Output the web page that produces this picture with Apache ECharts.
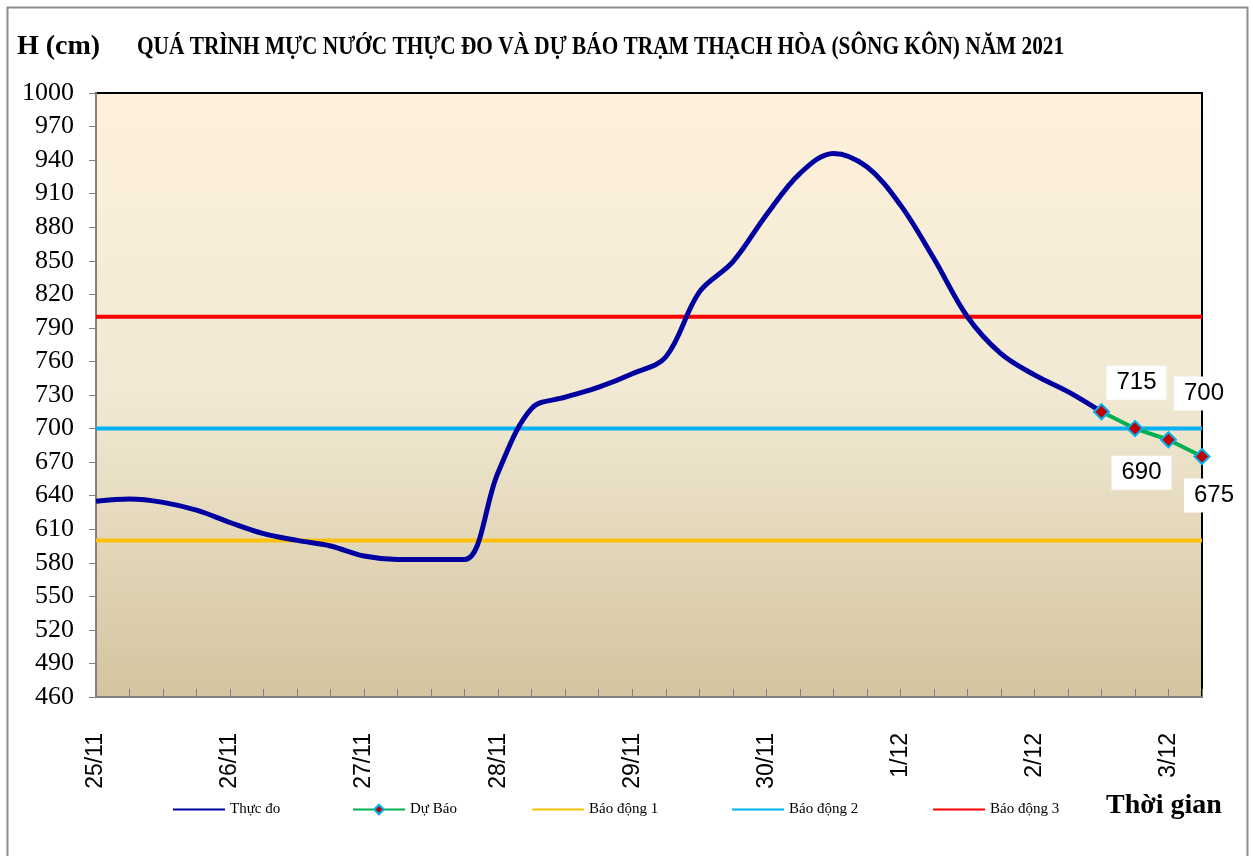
<!DOCTYPE html>
<html>
<head>
<meta charset="utf-8">
<script src="https://cdn.jsdelivr.net/npm/echarts@6/dist/echarts.min.js"></script>
<style>
    html, body { margin: 0; padding: 0; background: #fff; }
    #chart { width: 1253px; height: 856px; }
</style>
</head>
<body>
<div id="chart"></div>
<script>
    // Mốc thời gian 6 giờ một lần, từ 25/11 đến 3/12 06h
    var days = ['25/11', '26/11', '27/11', '28/11', '29/11', '30/11', '1/12', '2/12', '3/12'];
    var categories = [];
    days.forEach(function (d, i) {
        var hours = i === days.length - 1 ? ['00', '06'] : ['00', '06', '12', '18'];
        hours.forEach(function (h) { categories.push(d + ' ' + h + 'h'); });
    });

    // Mực nước thực đo (cm)
    var thucDo = [635, 637, 634, 627, 616, 606, 600, 595, 586, 583, 583, 583,
                  661, 718, 728, 737, 749, 764, 822, 849, 891, 928, 946, 934,
                  900, 852, 800, 767, 748, 733, 715];
    // Dự báo (cm)
    var duBao = [715, 700, 690, 675];
    var duBaoStart = 30;

    // Các cấp báo động
    var baoDong1 = 600, baoDong2 = 700, baoDong3 = 800;

    var yTicks = { min: 460, max: 1000, interval: 30 };

    var chart = echarts.init(document.getElementById('chart'));

    var duBaoData = categories.map(function () { return null; });
    // vị trí nhãn dự báo (lệch so với điểm)
    var labelOffsets = [[35, -29], [69, -35], [-27, 33], [12, 39]];
    duBao.forEach(function (v, i) {
        duBaoData[duBaoStart + i] = {
            value: v,
            label: { offset: labelOffsets[i] }
        };
    });

    function flat(v) { return categories.map(function () { return v; }); }

    // mỗi mục chú thích đặt riêng cho đúng vị trí
    var legendLeft = { 'Thực đo': 172, 'Dự Báo': 352, 'Báo động 1': 531, 'Báo động 2': 731, 'Báo động 3': 932 };
    var legends = Object.keys(legendLeft).map(function (name) {
        return {
            left: legendLeft[name], top: 802, padding: 0,
            itemWidth: 52, itemHeight: 12, itemGap: 0,
            textStyle: { fontFamily: 'Liberation Serif', fontSize: 15, color: '#000' },
            data: [name === 'Dự Báo' ? name : { name: name, itemStyle: { opacity: 0 } }]
        };
    });

    var option = {
        backgroundColor: '#fff',
        animation: false,
        textStyle: { fontFamily: 'Liberation Serif' },
        title: [
            {
                text: 'H (cm)', left: 12, top: 28,
                textStyle: { fontFamily: 'Liberation Serif', fontSize: 28, fontWeight: 'bold', color: '#000' }
            },
            {
                text: 'Thời gian', left: 1101, top: 787,
                textStyle: { fontFamily: 'Liberation Serif', fontSize: 28, fontWeight: 'bold', color: '#000' }
            }
        ],
        legend: legends,
        grid: {
            left: 96, right: 51, top: 93, bottom: 159,
            show: true,
            borderColor: '#000', borderWidth: 2,
            backgroundColor: {
                type: 'linear', x: 0, y: 0, x2: 0, y2: 1,
                colorStops: [
                    { offset: 0, color: '#FEF1DB' },
                    { offset: 0.5, color: '#F1E9D3' },
                    { offset: 1, color: '#D4C49F' }
                ]
            }
        },
        xAxis: {
            type: 'category',
            boundaryGap: false,
            data: categories,
            axisLine: { lineStyle: { color: '#808080', width: 2 } },
            axisTick: { show: true, inside: true, length: 8, interval: 0, lineStyle: { color: '#808080' } },
            axisLabel: {
                interval: 3, rotate: 90, margin: 36,
                fontFamily: 'Liberation Sans', fontSize: 23, color: '#000',
                formatter: function (v) { return v.split(' ')[0]; }
            },
            splitLine: { show: false }
        },
        yAxis: {
            type: 'value',
            min: yTicks.min, max: yTicks.max, interval: yTicks.interval,
            axisLine: { show: true, lineStyle: { color: '#808080', width: 2 } },
            axisTick: { show: true, length: 7, lineStyle: { color: '#808080' } },
            axisLabel: {
                fontFamily: 'Liberation Serif', fontSize: 26, color: '#000', margin: 22,
                formatter: function (v) { return String(v); }
            },
            splitLine: { show: false }
        },
        series: [
            {
                name: 'Thực đo', type: 'line', data: thucDo,
                smooth: 0.35, showSymbol: false, symbol: 'none',
                lineStyle: { color: '#0000A0', width: 5 },
                itemStyle: { color: '#0000A0' }, z: 5
            },
            {
                name: 'Dự Báo', type: 'line', data: duBaoData,
                symbol: 'diamond', symbolSize: 15, showSymbol: true,
                lineStyle: { color: '#00B050', width: 4 },
                itemStyle: { color: '#C00000', borderColor: '#00B0F0', borderWidth: 2 },
                label: {
                    show: true, position: 'inside',
                    fontFamily: 'Liberation Sans', fontSize: 24, color: '#000',
                    backgroundColor: '#fff', padding: [5, 10]
                },
                z: 6
            },
            {
                name: 'Báo động 1', type: 'line', data: flat(baoDong1), symbol: 'none',
                lineStyle: { color: '#FFC000', width: 4 }, itemStyle: { color: '#FFC000' }, z: 3
            },
            {
                name: 'Báo động 2', type: 'line', data: flat(baoDong2), symbol: 'none',
                lineStyle: { color: '#00B0F0', width: 4 }, itemStyle: { color: '#00B0F0' }, z: 3
            },
            {
                name: 'Báo động 3', type: 'line', data: flat(baoDong3), symbol: 'none',
                lineStyle: { color: '#FF0000', width: 4 }, itemStyle: { color: '#FF0000' }, z: 3
            }
        ],
        graphic: [
            {
                type: 'rect', left: 5, top: 5, z: -10,
                shape: { width: 1240, height: 860 },
                style: { fill: 'none', stroke: '#8c8c8c', lineWidth: 2 }
            },
            {
                // tiêu đề chữ hẹp như bản gốc
                type: 'text', x: 137, y: 47, scaleX: 0.82,
                style: {
                    text: 'QUÁ TRÌNH MỰC NƯỚC THỰC ĐO VÀ DỰ BÁO TRẠM THẠCH HÒA (SÔNG KÔN) NĂM 2021',
                    font: 'bold 26px "Liberation Serif"', fill: '#000',
                    verticalAlign: 'middle'
                }
            }
        ]
    };

    option && chart.setOption(option);
</script>
</body>
</html>
